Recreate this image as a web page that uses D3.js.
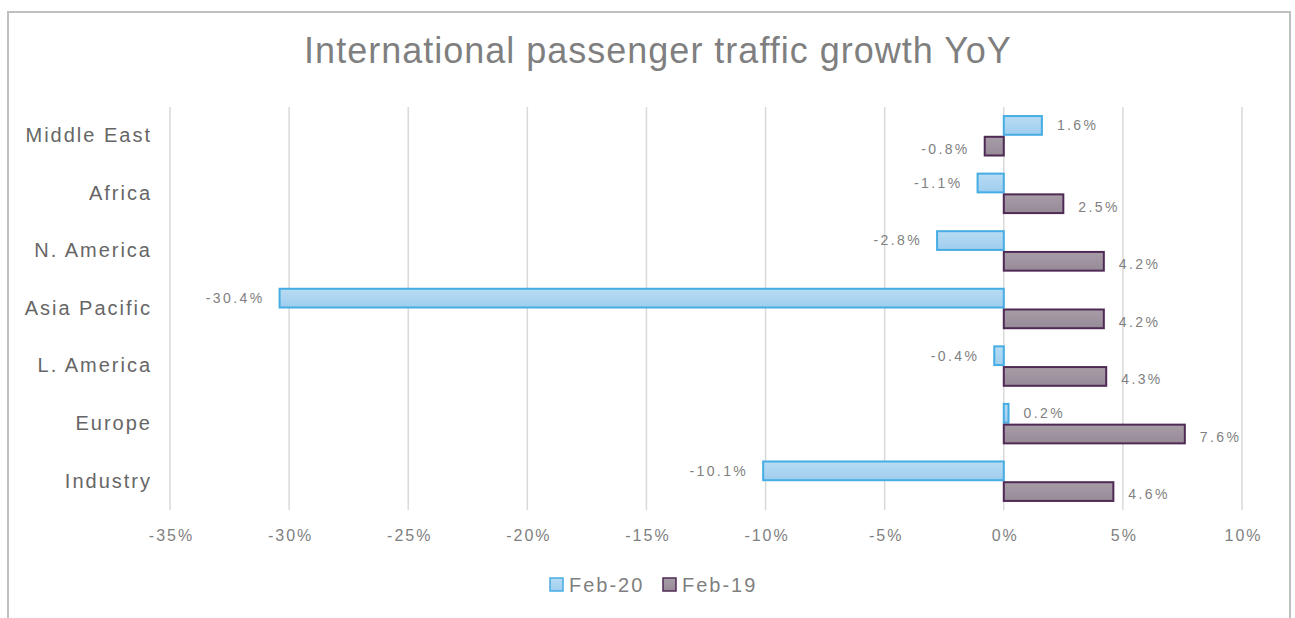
<!DOCTYPE html>
<html>
<head>
<meta charset="utf-8">
<script src="https://cdn.jsdelivr.net/npm/d3@7"></script>
<style>
  html, body { margin: 0; padding: 0; background: #fff; }
  svg { display: block; }
  text { font-family: "Liberation Sans", Arial, Helvetica, sans-serif; }
</style>
</head>
<body>
<svg id="chart" width="1295" height="618"></svg>
<script>
const categories = ["Middle East", "Africa", "N. America", "Asia Pacific", "L. America", "Europe", "Industry"];
const seriesNames = ["Feb-20", "Feb-19"];
const feb20 = [1.6, -1.1, -2.8, -30.4, -0.4, 0.2, -10.1];
const feb19 = [-0.8, 2.5, 4.2, 4.2, 4.3, 7.6, 4.6];
const tickValues = [-35, -30, -25, -20, -15, -10, -5, 0, 5, 10];
const title = "International passenger traffic growth YoY";

const svg = d3.select("#chart");

svg.append("rect").attr("x", 8).attr("y", 12).attr("width", 1282).attr("height", 620)
  .attr("fill", "#fff").attr("stroke", "#bfbfbf").attr("stroke-width", 2);

const defs = svg.append("defs");
const g1 = defs.append("linearGradient").attr("id", "gBlue").attr("x1", 0).attr("y1", 0).attr("x2", 0).attr("y2", 1);
g1.append("stop").attr("offset", "0%").attr("stop-color", "#b8dcf3");
g1.append("stop").attr("offset", "100%").attr("stop-color", "#9fcdee");
const g2 = defs.append("linearGradient").attr("id", "gPurple").attr("x1", 0).attr("y1", 0).attr("x2", 0).attr("y2", 1);
g2.append("stop").attr("offset", "0%").attr("stop-color", "#a79da7");
g2.append("stop").attr("offset", "100%").attr("stop-color", "#968a97");

const x = d3.scaleLinear().domain([-35, 10]).range([170, 1242]);
const y = d3.scaleBand().domain(categories).range([107, 510]).paddingInner(0.28).paddingOuter(0.14);
const ySub = d3.scaleBand().domain(seriesNames).range([0, y.bandwidth()]);

// gridlines
svg.append("g").selectAll("line").data(tickValues).join("line")
  .attr("x1", d => x(d)).attr("x2", d => x(d))
  .attr("y1", 107).attr("y2", 510)
  .attr("stroke", "#d9d9d9").attr("stroke-width", 1.5);

// x axis tick labels
const xAxis = d3.axisBottom(x).tickValues(tickValues).tickSize(0).tickFormat(d => d + "%");
const gx = svg.append("g").attr("transform", "translate(0,527)").call(xAxis);
gx.select(".domain").remove();
gx.selectAll("text").attr("fill", "#7f7f7f").style("font-size", "16px")
  .style("letter-spacing", "2px").attr("dx", "1px").attr("dy", "0.71em");

// y axis labels
const yAxis = d3.axisLeft(y).tickSize(0).tickPadding(18);
const gy = svg.append("g").attr("transform", "translate(170,0)").call(yAxis);
gy.select(".domain").remove();
gy.selectAll("text").attr("fill", "#666666").style("font-size", "20px").style("letter-spacing", "2px");

// bars
const data = [];
categories.forEach((c, i) => {
  data.push({ cat: c, s: "Feb-20", v: feb20[i] });
  data.push({ cat: c, s: "Feb-19", v: feb19[i] });
});
const style = {
  "Feb-20": { fill: "url(#gBlue)", stroke: "#45ade3" },
  "Feb-19": { fill: "url(#gPurple)", stroke: "#4e2a55" }
};
const barInset = 1;
svg.append("g").selectAll("rect").data(data).join("rect")
  .attr("x", d => Math.min(x(0), x(d.v)))
  .attr("y", d => y(d.cat) + ySub(d.s) + barInset)
  .attr("width", d => Math.abs(x(d.v) - x(0)))
  .attr("height", ySub.bandwidth() - barInset * 2)
  .attr("fill", d => style[d.s].fill)
  .attr("stroke", d => style[d.s].stroke)
  .attr("stroke-width", 2);

// value labels
svg.append("g").selectAll("text").data(data).join("text")
  .attr("x", d => d.v >= 0 ? x(d.v) + 15 : x(d.v) - 15)
  .attr("y", d => y(d.cat) + ySub(d.s) + ySub.bandwidth() / 2 + (d.s === "Feb-19" ? 3 : 0))
  .attr("dy", "0.35em")
  .attr("text-anchor", d => d.v >= 0 ? "start" : "end")
  .attr("fill", "#7f7f7f")
  .style("font-size", "14px")
  .style("letter-spacing", "2.4px")
  .text(d => d.v.toFixed(1) + "%");

// title
svg.append("text").attr("x", 658).attr("y", 63).attr("text-anchor", "middle")
  .attr("fill", "#7f7f7f").style("font-size", "36px").style("letter-spacing", "1px").text(title);

// legend
const legend = svg.append("g");
const legendItems = [
  { name: "Feb-20", x: 550 },
  { name: "Feb-19", x: 663 }
];
legendItems.forEach(it => {
  legend.append("rect").attr("x", it.x).attr("y", 578).attr("width", 13).attr("height", 13)
    .attr("fill", style[it.name].fill).attr("stroke", style[it.name].stroke).attr("stroke-width", 1.5);
  legend.append("text").attr("x", it.x + 19).attr("y", 585).attr("dy", "0.35em")
    .attr("fill", "#7f7f7f").style("font-size", "20px").style("letter-spacing", "2px").text(it.name);
});
</script>
</body>
</html>
